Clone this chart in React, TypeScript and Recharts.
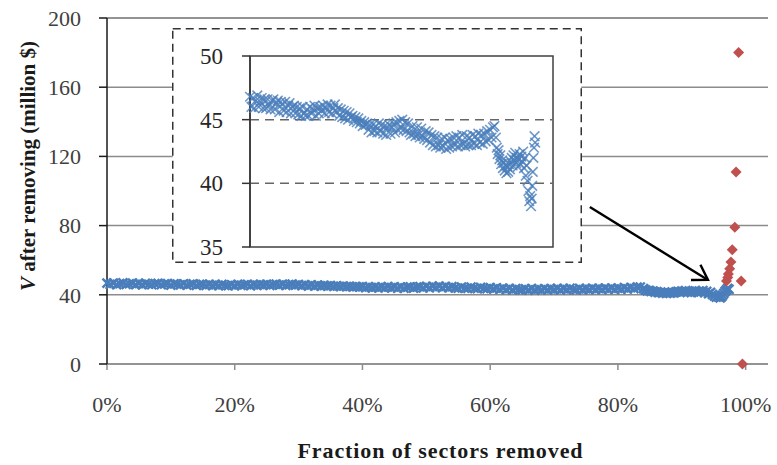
import {
  CartesianGrid,
  ReferenceArea,
  ReferenceLine,
  Scatter,
  ScatterChart,
  XAxis,
  YAxis,
} from "recharts";

// evenly spaced removal steps up to ~84%, then the noisy tail read point by point
const FRACTION_STEP = 0.005;
const BODY_V = [
  46.8, 46.0, 46.7, 45.9, 46.5, 46.9, 46.0, 46.4, 46.7, 45.9,
  46.6, 45.9, 46.6, 46.1, 45.8, 46.5, 46.6, 45.8, 46.3, 46.5,
  45.6, 46.4, 46.2, 45.7, 46.4, 45.6, 46.1, 46.3, 45.5, 46.0,
  46.1, 45.5, 46.0, 45.4, 45.9, 45.3, 46.0, 45.5, 45.3, 45.8,
  45.3, 46.0, 45.5, 45.8, 46.1, 45.3, 45.9, 45.5, 46.0, 45.7,
  46.1, 45.5, 45.9, 46.2, 45.6, 46.1, 45.5, 45.9, 46.2, 45.6,
  45.9, 45.3, 45.8, 45.2, 45.7, 45.1, 45.6, 45.0, 45.5, 45.2,
  45.3, 44.9, 45.2, 44.8, 45.1, 44.7, 44.9, 44.5, 44.8, 44.6,
  44.7, 44.2, 44.6, 44.0, 44.6, 44.1, 44.5, 44.0, 44.7, 44.1,
  44.6, 43.9, 44.5, 43.8, 44.4, 44.6, 43.9, 44.4, 44.7, 44.0,
  44.8, 44.2, 44.9, 44.3, 45.0, 44.2, 44.8, 44.1, 44.7, 44.0,
  43.8, 44.5, 43.9, 43.7, 44.4, 43.8, 43.6, 44.3, 43.7, 43.5,
  44.1, 43.4, 44.0, 43.2, 43.8, 43.0, 43.7, 42.9, 43.6, 43.0,
  42.8, 43.5, 42.9, 43.6, 42.7, 43.4, 42.8, 43.5, 42.9, 43.6,
  43.0, 43.7, 42.9, 43.6, 43.0, 43.8, 43.1, 42.9, 43.7, 43.0,
  43.6, 43.0, 43.8, 43.1, 43.7, 43.0, 43.9, 43.2, 43.8, 43.1,
  43.9, 43.3, 44.1, 43.4, 44.2, 43.6, 44.4, 44.5,
];

const TAIL_FRACTION = [
  0.84, 0.843, 0.846, 0.849, 0.852, 0.855, 0.858, 0.861, 0.864, 0.867,
  0.87, 0.873, 0.876, 0.879, 0.882, 0.885, 0.888, 0.891, 0.894, 0.897,
  0.9, 0.903, 0.906, 0.909, 0.912, 0.915, 0.918, 0.921, 0.924, 0.927,
  0.93, 0.933, 0.936, 0.939, 0.942, 0.945, 0.948, 0.951, 0.954, 0.957,
  0.96, 0.962, 0.964, 0.966, 0.968, 0.97, 0.972, 0.974,
];
const TAIL_V = [
  43.6, 42.8, 42.3, 42.6, 41.9, 42.2, 41.5, 41.8, 41.2, 41.6,
  41.0, 41.4, 40.8, 41.3, 40.9, 41.5, 41.1, 41.7, 42.0, 41.4,
  42.2, 41.8, 42.4, 41.6, 42.0, 41.3, 41.9, 42.3, 41.5, 42.1,
  41.7, 42.5, 41.2, 42.0, 40.6, 41.4, 40.2, 39.4, 38.6, 39.0,
  38.2, 38.8, 39.8, 40.9, 42.0, 42.8, 43.7, 43.2,
];

const LAST_FRACTION = [0.97, 0.972, 0.973, 0.975, 0.977, 0.979, 0.983, 0.985, 0.989, 0.993, 0.995];
const LAST_V = [48, 50, 52, 55, 59, 66, 79, 111, 180, 48, 0];

const X_TICKS = [0, 0.2, 0.4, 0.6, 0.8, 1];
const MAIN_Y_TICKS = [0, 40, 80, 120, 160, 200];
const INSET_Y_TICKS = [35, 40, 45, 50];

const X_MAX = 1.035;
const SERIF = "'Liberation Serif', 'Times New Roman', serif";
const BLUE = "#4a7ebb";
const RED = "#c0504d";
const GRID = "#8c8c8c";

const blueData = [
  ...BODY_V.map((v, i) => ({ f: i * FRACTION_STEP, v })),
  ...TAIL_FRACTION.map((f, i) => ({ f, v: TAIL_V[i] })),
];
const redData = LAST_FRACTION.map((f, i) => ({ f, v: LAST_V[i] }));

const pct = (v: number) => `${Math.round(v * 100)}%`;

function XMark(props: any) {
  const { cx, cy, r = 4, w = 2, opacity = 1 } = props;
  if (cx == null || cy == null) return null;
  return (
    <g stroke={BLUE} strokeWidth={w} strokeOpacity={opacity}>
      <line x1={cx - r} y1={cy - r} x2={cx + r} y2={cy + r} />
      <line x1={cx - r} y1={cy + r} x2={cx + r} y2={cy - r} />
    </g>
  );
}

function Diamond(props: any) {
  const { cx, cy } = props;
  if (cx == null || cy == null) return null;
  const s = 5.5;
  return (
    <path
      d={`M${cx},${cy - s} L${cx + s},${cy} L${cx},${cy + s} L${cx - s},${cy} Z`}
      fill={RED}
    />
  );
}

function Arrow(props: any) {
  const { x1, y1, x2, y2 } = props;
  const ang = Math.atan2(y2 - y1, x2 - x1) + Math.PI;
  const len = 17;
  const spread = 0.56;
  const a = { x: x2 + len * Math.cos(ang - spread), y: y2 + len * Math.sin(ang - spread) };
  const b = { x: x2 + len * Math.cos(ang + spread), y: y2 + len * Math.sin(ang + spread) };
  return (
    <g stroke="#000" strokeWidth={2.4} fill="none">
      <line x1={x1} y1={y1} x2={x2} y2={y2} />
      <path d={`M${a.x},${a.y} L${x2},${y2} L${b.x},${b.y}`} />
    </g>
  );
}

function YTitle() {
  return (
    <text
      x={35}
      y={166}
      transform="rotate(-90 35 166)"
      textAnchor="middle"
      fontFamily={SERIF}
      fontSize={21}
      fontWeight="bold"
      fill="#1a1a1a"
    >
      <tspan fontStyle="italic">V</tspan> after removing (million $)
    </text>
  );
}

function XTitle(props: any) {
  const vb = props.viewBox ?? { x: 107, y: 364, width: 661 };
  return (
    <text
      x={vb.x + vb.width / 2 + 3}
      y={vb.y + 94}
      textAnchor="middle"
      fontFamily={SERIF}
      fontSize={22}
      letterSpacing={0.9}
      fontWeight="bold"
      fill="#1a1a1a"
    >
      Fraction of sectors removed
    </text>
  );
}

function Inset() {
  return (
    <div style={{ position: "absolute", left: 172, top: 28, width: 410, height: 235 }}>
      <svg width={410} height={235} style={{ position: "absolute", left: 0, top: 0 }}>
        <rect
          x={0.75}
          y={0.75}
          width={408.5}
          height={233.5}
          fill="#fff"
          stroke="#333"
          strokeWidth={1.5}
          strokeDasharray="8 5"
        />
      </svg>
      <div style={{ position: "absolute", left: 0, top: 0 }}>
        <ScatterChart width={410} height={235} margin={{ top: 28, right: 29, bottom: 16, left: 0 }}>
          <XAxis type="number" dataKey="f" domain={[0, X_MAX]} hide />
          <YAxis
            type="number"
            dataKey="v"
            domain={[35, 50]}
            ticks={INSET_Y_TICKS}
            width={78}
            axisLine={{ stroke: "#333", strokeWidth: 1.5 }}
            tickLine={{ stroke: "#333", strokeWidth: 1.5 }}
            tickSize={8}
            tickMargin={19}
            tick={{ fontSize: 23, fill: "#262626", fontFamily: SERIF }}
          />
          <ReferenceLine y={45} stroke="#666" strokeWidth={1.5} strokeDasharray="9 6" />
          <ReferenceLine y={40} stroke="#666" strokeWidth={1.5} strokeDasharray="9 6" />
          <ReferenceArea
            x1={0}
            x2={X_MAX}
            y1={35}
            y2={50}
            fill="none"
            fillOpacity={0}
            stroke="#404040"
            strokeWidth={1.5}
          />
          <Scatter
            data={blueData}
            isAnimationActive={false}
            shape={(p: any) => <XMark cx={p.cx} cy={p.cy} r={4.8} w={1.6} opacity={0.8} />}
          />
        </ScatterChart>
      </div>
    </div>
  );
}

export default function App() {
  return (
    <div style={{ position: "absolute", left: 0, top: 0, width: 777, height: 465, background: "#fff" }}>
      <ScatterChart width={777} height={465} margin={{ top: 18, right: 9, bottom: 41, left: 0 }}>
        <CartesianGrid vertical={false} stroke={GRID} strokeWidth={1.5} />
        <XAxis
          type="number"
          dataKey="f"
          domain={[0, X_MAX]}
          ticks={X_TICKS}
          tickFormatter={pct}
          height={60}
          axisLine={{ stroke: GRID, strokeWidth: 1.5 }}
          tickLine={{ stroke: GRID, strokeWidth: 1.5 }}
          tickSize={6}
          tickMargin={26}
          tick={{ fontSize: 22, fill: "#404040", fontFamily: SERIF }}
          label={{ content: (p: any) => <XTitle {...p} /> }}
        />
        <YAxis
          type="number"
          dataKey="v"
          domain={[0, 200]}
          ticks={MAIN_Y_TICKS}
          width={107}
          axisLine={{ stroke: "#1a1a1a", strokeWidth: 1.5 }}
          tickLine={{ stroke: "#1a1a1a", strokeWidth: 1.5 }}
          tickSize={8}
          tickMargin={18}
          tick={{ fontSize: 22, fill: "#404040", fontFamily: SERIF }}
          label={{ content: () => <YTitle /> }}
        />
        <ReferenceLine y={200} stroke={GRID} strokeWidth={1.5} />
        <ReferenceLine
          segment={[
            { x: 0.756, y: 90.7 },
            { x: 0.941, y: 48.6 },
          ]}
          shape={(p: any) => <Arrow {...p} />}
        />
        <Scatter
          data={blueData}
          isAnimationActive={false}
          shape={(p: any) => <XMark cx={p.cx} cy={p.cy} r={4.5} w={2.4} />}
        />
        <Scatter data={redData} isAnimationActive={false} shape={(p: any) => <Diamond {...p} />} />
      </ScatterChart>
      <Inset />
    </div>
  );
}
